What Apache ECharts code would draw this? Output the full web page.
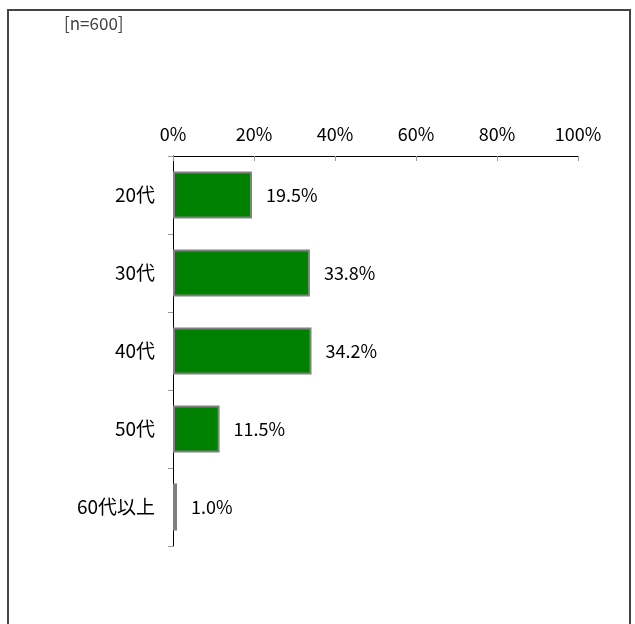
<!DOCTYPE html>
<html><head><meta charset="utf-8">
<script src="https://cdn.jsdelivr.net/npm/echarts@6/dist/echarts.min.js"></script>
<style>html,body{margin:0;padding:0;background:#fff}#c{width:635px;height:624px}</style>
</head><body><div id="c"></div>
<script>
const categories = ['20代','30代','40代','50代','60代以上'];
const values = [19.5, 33.8, 34.2, 11.5, 1.0];
const tickValues = [0, 20, 40, 60, 80, 100];
const note = '[n=600]';
const FONT = '"Noto Sans CJK JP", "Noto Sans", sans-serif';
const chart = echarts.init(document.getElementById('c'), null, {renderer:'canvas'});
chart.setOption({
  animation:false,
  textStyle:{fontFamily:FONT},
  graphic:[
    {type:'rect', shape:{x:8,y:10,width:622,height:640}, style:{fill:'none',stroke:'#444',lineWidth:2}},
    {type:'text', left:64, top:15, style:{text:note, fontSize:17, fill:'#444', fontFamily:FONT}}
  ],
  grid:{left:173, top:156, width:405, height:390},
  xAxis:{type:'value', position:'top', min:tickValues[0], max:tickValues[tickValues.length-1], interval:20,
    axisLine:{show:true, lineStyle:{color:'#000', width:1}},
    axisTick:{show:true, inside:true, length:5, lineStyle:{color:'#999'}},
    axisLabel:{formatter:'{value}%', fontSize:18, color:'#000', margin:13, fontFamily:FONT},
    splitLine:{show:false}},
  yAxis:{type:'category', data:categories, inverse:true,
    axisLine:{show:true, lineStyle:{color:'#000', width:1}},
    axisTick:{show:true, length:5, lineStyle:{color:'#999'}},
    axisLabel:{fontSize:19, color:'#000', margin:18, fontFamily:FONT}},
  series:[{type:'bar', data:values, barCategoryGap:'40%',
    itemStyle:{color:'#008000', borderColor:'#808080', borderWidth:2},
    label:{show:true, position:'right', distance:14, fontSize:18, color:'#000', fontFamily:FONT,
      formatter:p=>p.value.toFixed(1)+'%'}}]
});
</script></body></html>
